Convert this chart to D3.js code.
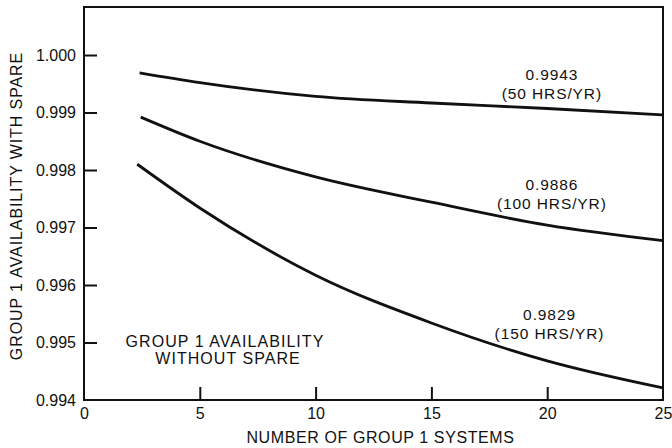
<!DOCTYPE html>
<html>
<head>
<meta charset="utf-8">
<script src="https://cdn.jsdelivr.net/npm/d3@7"></script>
<style>
  html, body { margin: 0; padding: 0; background: #fff; }
  svg { display: block; font-family: "Liberation Sans", Arial, Helvetica, sans-serif; }
</style>
</head>
<body>
<svg id="chart" width="672" height="448"></svg>
<script>
// Number of Group 1 systems at which each curve is read
const systems50 = [2.4, 5, 10, 15, 20, 25];
const systems100 = [2.45, 5, 10, 15, 20, 25];
const systems150 = [2.3, 5, 10, 15, 20, 25];

// Group 1 availability with one spare, per single-system availability
const avail50 = [0.99969, 0.99952, 0.99928, 0.999165, 0.99907, 0.99896];
const avail100 = [0.99892, 0.99850, 0.99788, 0.99744, 0.99704, 0.99677];
const avail150 = [0.99810, 0.99734, 0.99617, 0.99534, 0.99468, 0.99421];

// Curve labels: availability without spare and downtime
const curveValues = ["0.9943", "0.9886", "0.9829"];
const curveHours = ["(50 HRS/YR)", "(100 HRS/YR)", "(150 HRS/YR)"];

// Axis ticks
const xTicks = [0, 5, 10, 15, 20, 25];
const yTicks = [0.994, 0.995, 0.996, 0.997, 0.998, 0.999, 1.000];

const svg = d3.select("#chart");
const plotL = 84, plotR = 663, plotT = 7, plotB = 400;

const x = d3.scaleLinear().domain([0, 25]).range([plotL, plotR]);
const y = d3.scaleLinear().domain([0.994, 1.000835]).range([plotB, plotT]);

const ink = "#111";
const font = "'Liberation Sans', Arial, Helvetica, sans-serif";

// Frame
svg.append("rect")
  .attr("x", plotL).attr("y", plotT)
  .attr("width", plotR - plotL).attr("height", plotB - plotT)
  .attr("fill", "none").attr("stroke", ink).attr("stroke-width", 2);

// Y axis
const yAxis = svg.append("g")
  .attr("transform", `translate(${plotL},0)`)
  .call(d3.axisLeft(y).tickValues(yTicks).tickFormat(d3.format(".3f"))
    .tickSizeInner(-13).tickSizeOuter(0).tickPadding(8));
yAxis.select(".domain").remove();
yAxis.selectAll(".tick line").attr("stroke", ink).attr("stroke-width", 2);
yAxis.selectAll(".tick text").attr("fill", ink).style("font-size", "16px")
  .style("font-family", font);
// The bottom tick sits on the frame; hide its inward stub
yAxis.selectAll(".tick").filter(d => d === 0.994).select("line").remove();

// X axis
const xAxis = svg.append("g")
  .attr("transform", `translate(0,${plotB})`)
  .call(d3.axisBottom(x).tickValues(xTicks).tickFormat(d3.format("d"))
    .tickSizeInner(-13).tickSizeOuter(0).tickPadding(8));
xAxis.select(".domain").remove();
xAxis.selectAll(".tick line").attr("stroke", ink).attr("stroke-width", 2);
xAxis.selectAll(".tick").filter(d => d === 0 || d === 25).select("line").remove();
xAxis.selectAll(".tick text").attr("fill", ink).style("font-size", "16px")
  .style("font-family", font);

// Axis titles
svg.append("text")
  .attr("x", (plotL + plotR) / 2 + 7).attr("y", 443)
  .attr("text-anchor", "middle").attr("fill", ink)
  .style("font-size", "16px").style("letter-spacing", "0.6px")
  .text("NUMBER OF GROUP 1 SYSTEMS");

svg.append("text")
  .attr("transform", "translate(22,206) rotate(-90)")
  .attr("text-anchor", "middle").attr("fill", ink)
  .style("font-size", "16px").style("letter-spacing", "0.9px")
  .text("GROUP 1 AVAILABILITY WITH SPARE");

// Curves
const line = d3.line()
  .x(d => x(d[0])).y(d => y(d[1]))
  .curve(d3.curveMonotoneX);

const series = [
  d3.zip(systems50, avail50),
  d3.zip(systems100, avail100),
  d3.zip(systems150, avail150)
];

svg.append("g").selectAll("path")
  .data(series).join("path")
  .attr("d", line)
  .attr("fill", "none").attr("stroke", ink)
  .attr("stroke-width", 2.8).attr("stroke-linecap", "butt");

// Curve labels
const labelPos = [
  { cx: 20.2, value: 0.99905, dy: -30 },
  { cx: 20.2, value: 0.99702, dy: -36 },
  { cx: 20.1, value: 0.99552, dy: 7 }
];
labelPos.forEach((p, i) => {
  const g = svg.append("text")
    .attr("text-anchor", "middle").attr("fill", ink)
    .style("font-size", "15.5px").style("letter-spacing", "0.9px");
  const yy = y(p.value) + p.dy;
  g.append("tspan").attr("x", x(p.cx)).attr("y", yy).text(curveValues[i]);
  g.append("tspan").attr("x", x(p.cx)).attr("y", yy + 19).text(curveHours[i]);
});

// Note explaining the curve labels
const note = svg.append("text")
  .attr("text-anchor", "middle").attr("fill", ink)
  .style("font-size", "16px").style("letter-spacing", "1.05px");
note.append("tspan").attr("x", 225).attr("y", 347).text("GROUP 1 AVAILABILITY");
note.append("tspan").attr("x", 228).attr("y", 364).text("WITHOUT SPARE");
</script>
</body>
</html>
